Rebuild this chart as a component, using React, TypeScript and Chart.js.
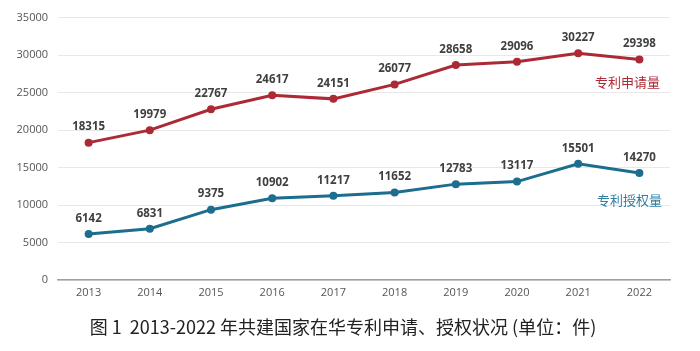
import React, { useEffect, useRef } from "react";
import { Chart, registerables } from "chart.js";

Chart.register(...registerables);

const years = ["2013", "2014", "2015", "2016", "2017", "2018", "2019", "2020", "2021", "2022"];
const applications = [18315, 19979, 22767, 24617, 24151, 26077, 28658, 29096, 30227, 29398];
const grants = [6142, 6831, 9375, 10902, 11217, 11652, 12783, 13117, 15501, 14270];
const applicationsLabel = "专利申请量";
const grantsLabel = "专利授权量";
const titleText = "图 1  2013-2022 年共建国家在华专利申请、授权状况 (单位：件)";

const RED = "#ac2a35";
const BLUE = "#1c6d8e";
const FONT = "'Noto Sans CJK SC', 'Noto Sans', sans-serif";

const labelPlugin = {
  id: "customLabels",
  afterDatasetsDraw(chart: any) {
    const ctx = chart.ctx;
    ctx.save();
    ctx.font = `bold 11.5px 'Open Sans', 'Noto Sans', sans-serif`;
    ctx.fillStyle = "#404040";
    ctx.textAlign = "center";
    ctx.textBaseline = "middle";
    chart.data.datasets.forEach((ds: any, i: number) => {
      const meta = chart.getDatasetMeta(i);
      meta.data.forEach((pt: any, j: number) => {
        ctx.fillText(String(ds.data[j]), pt.x, pt.y - 15.5);
      });
    });
    // series labels
    const xs = chart.scales.x;
    const ys = chart.scales.y;
    const lx = xs.getPixelForValue(9) - 12;
    ctx.font = `13px ${FONT}`;
    ctx.fillStyle = RED;
    ctx.fillText(applicationsLabel, lx, ys.getPixelForValue(26400));
    ctx.fillStyle = "#2f7fa0";
    ctx.fillText(grantsLabel, lx + 2, ys.getPixelForValue(10600));
    // title
    ctx.font = `18px ${FONT}`;
    ctx.fillStyle = "#222";
    ctx.fillText(titleText, 343, 327);
    ctx.restore();
  },
};

export default function App() {
  const ref = useRef<HTMLCanvasElement>(null);
  useEffect(() => {
    if (!ref.current) return;
    const chart = new Chart(ref.current, {
      type: "line",
      data: {
        labels: years,
        datasets: [
          {
            data: applications,
            borderColor: RED,
            backgroundColor: RED,
            borderWidth: 3,
            pointRadius: 4,
            pointBackgroundColor: RED,
            pointBorderWidth: 0,
            tension: 0,
          },
          {
            data: grants,
            borderColor: BLUE,
            backgroundColor: BLUE,
            borderWidth: 3,
            pointRadius: 4,
            pointBackgroundColor: BLUE,
            pointBorderWidth: 0,
            tension: 0,
          },
        ],
      },
      options: {
        responsive: false,
        animation: false,
        devicePixelRatio: 1,
        layout: { padding: { left: 0, right: 30, top: 17.5, bottom: 0 } },
        plugins: {
          legend: { display: false },
          tooltip: { enabled: false },
          title: { display: false },
        },
        scales: {
          x: {
            offset: true,
            grid: { display: false, drawTicks: false },
            border: { display: true, color: "#a0a0a0", width: 1.5 },
            ticks: {
              color: "#555",
              font: { size: 11, family: "'Open Sans', 'Noto Sans', sans-serif" },
              padding: 6,
              maxRotation: 0,
            },
            afterFit: (s: any) => {
              s.height = 71;
            },
          },
          y: {
            min: 0,
            max: 35000,
            grid: { color: "#e8e8e8", drawTicks: false, lineWidth: 1 },
            border: { display: false },
            ticks: {
              stepSize: 5000,
              color: "#555",
              font: { size: 11, family: "'Open Sans', 'Noto Sans', sans-serif" },
              padding: 10,
              callback: (v: any) => String(v),
            },
            afterFit: (s: any) => {
              s.width = 58;
            },
          },
        },
      },
      plugins: [labelPlugin],
    });
    return () => chart.destroy();
  }, []);
  return (
    <div style={{ position: "absolute", left: 0, top: 0, width: 700, height: 351, background: "#fff" }}>
      <canvas ref={ref} width={700} height={351} style={{ width: 700, height: 351 }} />
    </div>
  );
}
